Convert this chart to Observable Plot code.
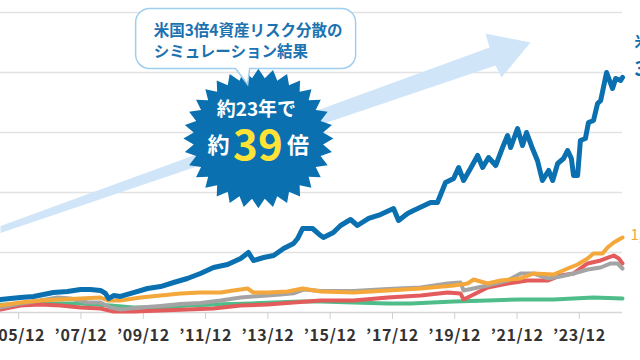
<!DOCTYPE html>
<html>
<head>
<meta charset="utf-8">
<script src="https://cdn.jsdelivr.net/npm/d3@7"></script>
<script src="https://cdn.jsdelivr.net/npm/@observablehq/plot@0.6"></script>
<style>
  html, body { margin: 0; padding: 0; background: #ffffff; }
  #chart svg { display: block; }
  #chart g[aria-label="x-axis tick label"] text { letter-spacing: 0.6px; }
</style>
</head>
<body>
<div id="chart"></div>
<script>
// ---- data (decimal years, values in 万円) ----
const seriesKeys = ["green", "red", "gray", "orange", "blue"];
const seriesColors = ["#4fbd89", "#e35b5b", "#a4a4a4", "#f4a73a", "#0a70b0"];
const seriesWidths = [4, 4, 4, 4, 5];

const blueYears = [2005.33, 2005.97, 2006.39, 2007.03, 2007.48, 2007.90, 2008.22, 2008.54, 2008.70, 2008.80, 2008.96, 2009.18, 2009.60, 2010.05, 2010.47, 2010.89, 2011.33, 2011.75, 2012.17, 2012.62, 2013.04, 2013.29, 2013.45, 2013.78, 2014.10, 2014.42, 2014.74, 2014.87, 2015.03, 2015.35, 2015.61, 2015.70, 2016.02, 2016.25, 2016.57, 2016.79, 2017.15, 2017.53, 2017.95, 2018.11, 2018.40, 2018.59, 2019.14, 2019.36, 2019.62, 2019.88, 2020.04, 2020.20, 2020.42, 2020.65, 2020.81, 2021.00, 2021.23, 2021.45, 2021.61, 2021.71, 2021.93, 2022.09, 2022.22, 2022.41, 2022.57, 2022.73, 2022.93, 2023.06, 2023.22, 2023.41, 2023.54, 2023.66, 2023.73, 2023.86, 2023.95, 2024.11, 2024.21, 2024.37, 2024.50, 2024.60, 2024.79, 2024.98, 2025.08, 2025.24, 2025.30];
const blueValues = [217, 250, 267, 333, 350, 383, 383, 367, 317, 233, 283, 267, 333, 400, 433, 500, 567, 650, 750, 800, 900, 1000, 867, 917, 950, 1067, 1150, 1233, 1400, 1400, 1283, 1250, 1333, 1450, 1550, 1450, 1567, 1633, 1733, 1533, 1650, 1700, 1833, 1833, 2167, 2233, 2417, 2200, 2400, 2617, 2417, 2583, 2450, 2750, 2950, 2750, 3067, 2783, 3000, 2733, 2533, 2200, 2367, 2200, 2483, 2567, 2700, 2567, 2283, 2283, 2867, 2900, 3167, 3200, 3483, 3533, 4000, 3733, 3900, 3867, 3917];

const orangeYears = [2005.33, 2005.97, 2006.61, 2007.26, 2007.90, 2008.54, 2008.77, 2009.18, 2009.83, 2010.47, 2011.11, 2011.75, 2012.40, 2012.81, 2013.26, 2013.45, 2013.90, 2014.55, 2015.03, 2015.61, 2016.67, 2017.76, 2018.82, 2019.88, 2020.33, 2020.52, 2020.97, 2021.39, 2022.03, 2022.45, 2023.09, 2023.54, 2023.86, 2024.18, 2024.37, 2024.66, 2024.82, 2025.02, 2025.30];
const orangeValues = [117, 167, 200, 217, 233, 250, 200, 200, 250, 283, 317, 333, 333, 367, 400, 333, 333, 350, 400, 350, 333, 367, 400, 450, 483, 550, 483, 533, 567, 650, 633, 733, 800, 900, 983, 983, 1083, 1167, 1250];

const grayYears = [2005.33, 2005.97, 2006.61, 2007.16, 2007.58, 2008.12, 2008.54, 2008.86, 2009.18, 2009.83, 2010.47, 2011.11, 2011.75, 2012.40, 2013.04, 2013.68, 2014.32, 2014.74, 2015.06, 2015.61, 2016.67, 2017.76, 2018.82, 2019.69, 2020.10, 2020.20, 2020.97, 2021.61, 2022.03, 2022.45, 2022.90, 2023.31, 2023.73, 2024.18, 2024.60, 2024.92, 2025.14, 2025.30];
const grayValues = [83, 150, 200, 250, 233, 167, 167, 83, 50, 83, 110, 140, 160, 200, 250, 275, 300, 320, 383, 360, 360, 390, 417, 483, 500, 367, 450, 533, 650, 650, 567, 600, 650, 717, 750, 817, 817, 733];

const redYears = [2005.33, 2005.97, 2006.61, 2007.26, 2007.90, 2008.54, 2008.96, 2009.60, 2010.47, 2011.33, 2012.17, 2013.04, 2013.90, 2014.74, 2015.61, 2016.67, 2017.76, 2018.82, 2019.69, 2020.10, 2020.20, 2020.97, 2021.61, 2022.25, 2022.90, 2023.31, 2023.73, 2024.18, 2024.60, 2025.02, 2025.18, 2025.30];
const redValues = [50, 117, 133, 117, 83, 67, 17, 17, 33, 50, 67, 117, 133, 167, 200, 200, 250, 283, 333, 317, 217, 417, 483, 533, 533, 617, 650, 817, 867, 950, 900, 817];

const greenYears = [2005.33, 2006.61, 2007.90, 2008.86, 2009.60, 2010.47, 2011.33, 2012.17, 2013.36, 2014.96, 2015.61, 2016.67, 2017.76, 2018.50, 2019.88, 2020.97, 2022.03, 2023.09, 2024.37, 2025.30];
const greenValues = [130, 150, 150, 117, 83, 83, 117, 133, 150, 183, 183, 167, 150, 150, 183, 200, 217, 217, 250, 233];

const tickYears = [2005, 2007, 2009, 2011, 2013, 2015, 2017, 2019, 2021, 2023];
const tickLabels = ["’05/12", "’07/12", "’09/12", "’11/12", "’13/12", "’15/12", "’17/12", "’19/12", "’21/12", "’23/12"];
const gridValues = [1000, 2000, 3000, 4000, 5000];
const xDomainYears = [2005.33, 2025.30];

const bubbleLines = ["米国3倍4資産リスク分散の", "シミュレーション結果"];
const badgeLine1 = "約23年で";
const badgeLine2 = ["約", "39", "倍"];
const blueLabel = ["米国3倍4資産リスク分散", "3,917万円"];
const orangeLabel = "1,250万円";

// annotation anchors (data space)
const arrowAnchor = {year: 2005.33, value: 1383};
const bubbleAnchor = {year: 2013.20, value: 4567};
const badgeAnchor = {year: 2013.61, value: 2900};

// ---- helpers ----
function toDate(y) {
  const yr = Math.floor(y);
  const a = Date.UTC(yr, 0, 1), b = Date.UTC(yr + 1, 0, 1);
  return new Date(a + (y - yr) * (b - a));
}
const seriesData = {
  green: [greenYears, greenValues],
  red: [redYears, redValues],
  gray: [grayYears, grayValues],
  orange: [orangeYears, orangeValues],
  blue: [blueYears, blueValues]
};
const rows = {};
for (const k of seriesKeys) {
  const [ys, vs] = seriesData[k];
  rows[k] = ys.map((y, i) => ({date: toDate(y), value: vs[i]}));
}
const tickDates = tickYears.map(y => new Date(Date.UTC(y, 11, 1)));
const tickLabelMap = new Map(tickDates.map((d, i) => [+d, tickLabels[i]]));

// custom symbols
const arrowSymbol = {draw(ctx) {
  ctx.moveTo(0, -3.5);
  ctx.lineTo(489, -182);
  ctx.lineTo(485, -196);
  ctx.lineTo(530, -187);
  ctx.lineTo(501, -152);
  ctx.lineTo(495, -164);
  ctx.lineTo(0, 3.5);
  ctx.closePath();
}};
const starSymbol = {draw(ctx) {
  const n = 32, R = 75, r = 65;
  for (let i = 0; i < 2 * n; i++) {
    const a = Math.PI * i / n - Math.PI / 2;
    const rad = i % 2 ? r : R;
    const x = Math.cos(a) * rad, y = Math.sin(a) * rad * 0.93;
    if (i) ctx.lineTo(x, y); else ctx.moveTo(x, y);
  }
  ctx.closePath();
}};
const bubbleSymbol = {draw(ctx) {
  const w = 110, h = 30, r = 14;
  ctx.moveTo(-w + r, -h);
  ctx.lineTo(w - r, -h);
  ctx.arcTo(w, -h, w, -h + r, r);
  ctx.lineTo(w, h - r);
  ctx.arcTo(w, h, w - r, h, r);
  ctx.lineTo(4, h);
  ctx.lineTo(2, h + 16);
  ctx.lineTo(-10, h);
  ctx.lineTo(-w + r, h);
  ctx.arcTo(-w, h, -w, h - r, r);
  ctx.lineTo(-w, -h + r);
  ctx.arcTo(-w, -h, -w + r, -h, r);
  ctx.closePath();
}};

const ax = d => toDate(d.year), ay = d => d.value;
const cjk = "'Noto Sans CJK JP', 'Noto Sans', sans-serif";
const lastBlue = rows.blue[rows.blue.length - 1];
const lastOrange = rows.orange[rows.orange.length - 1];

const lineMarks = seriesKeys.map((k, i) =>
  Plot.line(rows[k], {x: "date", y: "value", stroke: seriesColors[i], strokeWidth: seriesWidths[i], strokeLinejoin: "round", strokeLinecap: "round"})
);

const chart = Plot.plot({
  width: 640,
  height: 360,
  marginLeft: 0,
  marginRight: 18,
  marginTop: 12,
  marginBottom: 48,
  x: {type: "utc", domain: xDomainYears.map(toDate)},
  y: {domain: [0, 5000], axis: null},
  style: {fontFamily: cjk, background: "#ffffff", overflow: "visible"},
  marks: [
    Plot.ruleY(gridValues, {stroke: "#e2e2e2", strokeWidth: 1.5}),
    Plot.ruleY([0], {stroke: "#d6d6d6", strokeWidth: 1.5}),
    Plot.axisX(tickDates, {
      tickSize: 7, tickPadding: 10, stroke: "#cfcfcf", color: "#333333",
      fontSize: 16, fontWeight: "bold", fontFamily: cjk,
      tickFormat: d => tickLabelMap.get(+d), label: null
    }),
    Plot.dot([arrowAnchor], {x: ax, y: ay, symbol: arrowSymbol, r: 10, fill: "#d0e6f8", stroke: "none"}),
    ...lineMarks,
    Plot.dot([badgeAnchor], {x: ax, y: ay, symbol: starSymbol, r: 10, fill: "#0a70b0", stroke: "none"}),
    Plot.dot([bubbleAnchor], {x: ax, y: ay, symbol: bubbleSymbol, r: 10, fill: "#ffffff", stroke: "#9fcfee", strokeWidth: 1.5}),
    Plot.text([bubbleAnchor], {x: ax, y: ay, text: () => bubbleLines[0], textAnchor: "start", dx: -92, dy: -7, fontSize: 15.5, fontWeight: "bold", fill: "#1b72b0"}),
    Plot.text([bubbleAnchor], {x: ax, y: ay, text: () => bubbleLines[1], textAnchor: "start", dx: -92, dy: 14, fontSize: 15.5, fontWeight: "bold", fill: "#1b72b0"}),
    Plot.text([badgeAnchor], {x: ax, y: ay, text: () => badgeLine1, dx: -2, dy: -29, fontSize: 19, fontWeight: "bold", fill: "#ffffff"}),
    Plot.text([badgeAnchor], {x: ax, y: ay, text: () => badgeLine2[0], dx: -40, dy: 7, fontSize: 22, fontWeight: "bold", fill: "#ffffff"}),
    Plot.text([badgeAnchor], {x: ax, y: ay, text: () => badgeLine2[1], dx: -0.5, dy: 8, fontSize: 42, fontWeight: "bold", fill: "#ffe236"}),
    Plot.text([badgeAnchor], {x: ax, y: ay, text: () => badgeLine2[2], dx: 39.5, dy: 7, fontSize: 22, fontWeight: "bold", fill: "#ffffff"}),
    Plot.text([lastBlue], {x: "date", y: "value", text: () => blueLabel[0], textAnchor: "start", dx: 12, dy: -35, fontSize: 15, fontWeight: "bold", fill: "#0a70b0"}),
    Plot.text([lastBlue], {x: "date", y: "value", text: () => blueLabel[1], textAnchor: "start", dx: 12, dy: -8, fontSize: 20, fontWeight: "bold", fill: "#0a70b0"}),
    Plot.text([lastOrange], {x: "date", y: "value", text: () => orangeLabel, textAnchor: "start", dx: 8, dy: -2, fontSize: 15, fill: "#f4a73a"})
  ]
});
document.getElementById("chart").append(chart);
</script>
</body>
</html>
